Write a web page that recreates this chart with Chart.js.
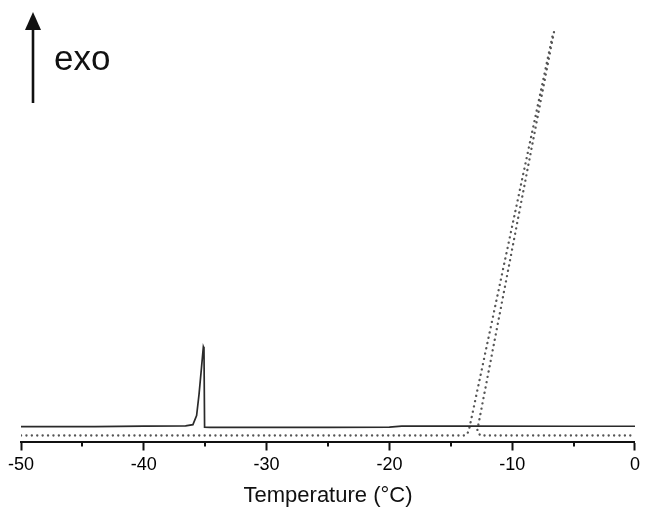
<!DOCTYPE html>
<html>
<head>
<meta charset="utf-8">
<script src="https://cdn.jsdelivr.net/npm/chart.js@4"></script>
<style>
  html, body { margin: 0; padding: 0; background: #fff; }
  #wrap { position: relative; width: 646px; height: 507px; }
  #exo {
    position: absolute; left: 54px; top: 40px;
    font: 35px "Liberation Sans", Arial, sans-serif; line-height: 1;
    color: #111;
  }
  #arrow { position: absolute; left: 0; top: 0; }
</style>
</head>
<body>
<div id="wrap">
  <canvas id="dsc-chart"></canvas>
  <svg id="arrow" width="60" height="110">
    <line x1="33" y1="28" x2="33" y2="103" stroke="#111" stroke-width="2.6"/>
    <polygon points="33,12 25,30 41,30" fill="#111"/>
  </svg>
  <div id="exo">exo</div>
</div>
<script>
// cooling curves, heat flow in arbitrary units (exo up)
var tempSolid = [-50, -44, -40, -36.6, -36.0, -35.7, -35.5, -35.3, -35.15, -35.1, -35.05, -34.6, -30, -25, -20, -19, -13.5, -5, 0];
var heatSolid = [3.6, 3.6, 3.75, 3.8, 4.1, 6.3, 11.5, 18.0, 23.0, 22.6, 3.5, 3.45, 3.45, 3.45, 3.5, 3.75, 3.75, 3.7, 3.7];

var tempDotted = [-50, -13.8, -13.55, -6.65, -6.6, -12.85, -12.6, 0];
var heatDotted = [1.46, 1.46, 2.4, 99.5, 99.5, 2.6, 1.46, 1.46];

var majorTicks = [-50, -40, -30, -20, -10, 0];
var minorTicks = [-45, -35, -25, -15, -5];

function toPoints(xs, ys) {
  var out = [];
  for (var i = 0; i < xs.length; i++) out.push({ x: xs[i], y: ys[i] });
  return out;
}

// Chart.js has no minor ticks, so draw short ones off the x scale
var minorTickPlugin = {
  id: 'minorTicks',
  afterDraw: function (chart) {
    var xs = chart.scales.x;
    var ctx = chart.ctx;
    var y0 = chart.chartArea.bottom;
    ctx.save();
    ctx.strokeStyle = '#111';
    ctx.lineWidth = 2;
    minorTicks.forEach(function (v) {
      var px = Math.round(xs.getPixelForValue(v));
      ctx.beginPath();
      ctx.moveTo(px, y0);
      ctx.lineTo(px, y0 + 5);
      ctx.stroke();
    });
    ctx.restore();
  }
};

new Chart(document.getElementById('dsc-chart'), {
  type: 'line',
  data: {
    datasets: [
      {
        label: 'solid',
        data: toPoints(tempSolid, heatSolid),
        borderColor: '#2a2a2a',
        borderWidth: 1.7,
        pointRadius: 0,
        tension: 0
      },
      {
        label: 'dotted',
        data: toPoints(tempDotted, heatDotted),
        borderColor: '#555',
        borderWidth: 2.3,
        borderDash: [0.1, 5.3],
        borderCapStyle: 'round',
        pointRadius: 0,
        tension: 0
      }
    ]
  },
  options: {
    responsive: true,
    maintainAspectRatio: false,
    animation: false,
    layout: { padding: { left: 21, right: 8, top: 30, bottom: 0 } },
    plugins: {
      legend: { display: false },
      tooltip: { enabled: false }
    },
    scales: {
      x: {
        type: 'linear',
        min: -50,
        max: 0,
        afterBuildTicks: function (scale) {
          scale.ticks = majorTicks.map(function (v) { return { value: v }; });
        },
        ticks: {
          color: '#000',
          padding: 6,
          font: { family: '"Liberation Sans", Arial, sans-serif', size: 18, lineHeight: 1 }
        },
        grid: {
          drawOnChartArea: false,
          drawTicks: true,
          tickLength: 9,
          tickWidth: 2,
          tickColor: '#111'
        },
        border: { display: true, color: '#111', width: 2 },
        title: {
          display: true,
          text: 'Temperature (°C)',
          color: '#111',
          padding: { top: 4.5, bottom: 0 },
          font: { family: '"Liberation Sans", Arial, sans-serif', size: 22, lineHeight: 1 }
        }
      },
      y: {
        type: 'linear',
        display: false,
        min: 0,
        max: 100
      }
    }
  },
  plugins: [minorTickPlugin]
});
</script>
</body>
</html>
